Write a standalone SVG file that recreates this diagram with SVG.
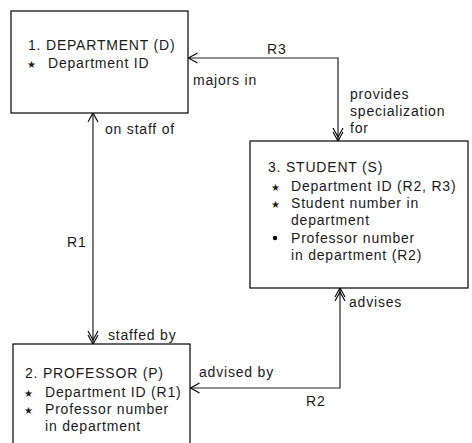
<svg xmlns="http://www.w3.org/2000/svg" width="472" height="443" viewBox="0 0 472 443">
<defs>
<style>
text{font-family:"Liberation Sans",Arial,sans-serif;font-size:14px;letter-spacing:0.8px;fill:#1a1a1a}
.box{fill:#fff;stroke:#000;stroke-width:1.2}
.conn{fill:none;stroke:#222;stroke-width:1.2}
.star{font-family:"DejaVu Sans",sans-serif;font-size:10px;letter-spacing:0}
</style>
<marker id="one" viewBox="-10 -6 12 12" markerWidth="12" markerHeight="12" refX="0" refY="0" orient="auto-start-reverse" markerUnits="userSpaceOnUse">
<path d="M-9,-5 L0,0 L-9,5" fill="none" stroke="#000" stroke-width="1.1"/>
</marker>
<marker id="many" viewBox="-14 -6 16 12" markerWidth="16" markerHeight="12" refX="0" refY="0" orient="auto-start-reverse" markerUnits="userSpaceOnUse">
<path d="M-9,-5 L0,0 L-9,5 M-13,-5 L-4,0 L-13,5" fill="none" stroke="#000" stroke-width="1.1"/>
</marker>
</defs>
<rect width="472" height="443" fill="#fff"/>
<g id="connectors">
<path class="conn" d="M338,141 L338,58 L188.5,58" marker-start="url(#many)" marker-end="url(#one)"/>
<path class="conn" d="M93,113 L93,344" marker-start="url(#one)" marker-end="url(#many)"/>
<path class="conn" d="M340,288 L340,388 L190.5,388" marker-start="url(#many)" marker-end="url(#one)"/>
<text x="267" y="54">R3</text>
<text x="193" y="85">majors in</text>
<text x="350" y="99">provides</text>
<text x="350" y="116">specialization</text>
<text x="350" y="133">for</text>
<text x="105" y="134">on staff of</text>
<text x="67" y="247">R1</text>
<text x="108" y="340">staffed by</text>
<text x="349" y="307">advises</text>
<text x="199" y="377">advised by</text>
<text x="306" y="406">R2</text>
</g>
<g id="department">
<rect class="box" x="11" y="11" width="177" height="102"/>
<text x="28" y="50">1. DEPARTMENT (D)</text>
<text class="star" x="27" y="68">★</text>
<text x="48" y="68">Department ID</text>
</g>
<g id="student">
<rect class="box" x="250" y="141" width="218" height="147"/>
<text x="268" y="172">3. STUDENT (S)</text>
<text class="star" x="271" y="191">★</text>
<text x="291" y="191">Department ID (R2, R3)</text>
<text class="star" x="271" y="208">★</text>
<text x="291" y="208">Student number in</text>
<text x="291" y="225">department</text>
<circle cx="275" cy="238" r="2.2" fill="#000"/>
<text x="291" y="243">Professor number</text>
<text x="291" y="260">in department (R2)</text>
</g>
<g id="professor">
<rect class="box" x="13" y="344" width="177" height="110"/>
<text x="25" y="378">2. PROFESSOR (P)</text>
<text class="star" x="24" y="397">★</text>
<text x="45" y="397">Department ID (R1)</text>
<text class="star" x="24" y="414">★</text>
<text x="45" y="414">Professor number</text>
<text x="45" y="431">in department</text>
</g>
</svg>
